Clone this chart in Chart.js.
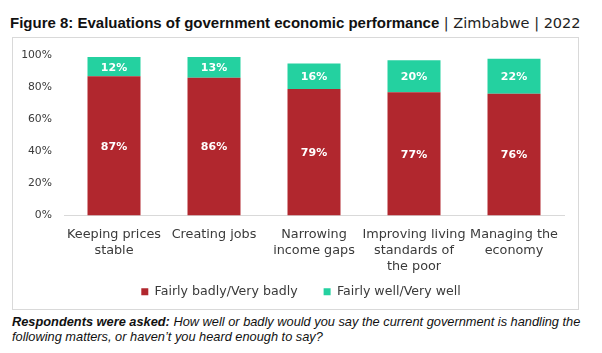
<!DOCTYPE html>
<html>
<head>
<meta charset="utf-8">
<script src="https://cdn.jsdelivr.net/npm/chart.js@4.4.1/dist/chart.umd.min.js"></script>
<style>
  html, body { margin: 0; padding: 0; background: #fff; }
  body { width: 602px; height: 353px; position: relative; overflow: hidden; }
  #title { position: absolute; left: 10px; top: 14px; white-space: nowrap; line-height: 16px; color: #111; }
  #title .b { font: bold 15px "Liberation Sans", Arial, sans-serif; }
  #title .n { font: 14.5px "DejaVu Sans", sans-serif; color: #222; }
  #box { position: absolute; left: 12px; top: 37px; width: 567px; height: 273px; box-sizing: border-box; border: 1px solid #d9d9d9; }
  #wrap { position: absolute; left: 12px; top: 37px; width: 567px; height: 273px; }
  #foot { position: absolute; left: 12px; top: 315px; font: italic 12.8px "Liberation Sans", Arial, sans-serif; line-height: 14.5px; color: #111; white-space: nowrap; }
  #foot b { font-weight: bold; }
</style>
</head>
<body>
<div id="title"><span class="b">Figure 8: Evaluations of government economic performance</span><span class="n"> | Zimbabwe | 2022</span></div>
<div id="box"></div>
<div id="wrap"><canvas id="c"></canvas></div>
<div id="foot"><b>Respondents were asked:</b> How well or badly would you say the current government is handling the<br>following matters, or haven’t you heard enough to say?</div>
<script>
const categories = [
  ["Keeping prices", "stable"],
  ["Creating jobs"],
  ["Narrowing", "income gaps"],
  ["Improving living", "standards of", "the poor"],
  ["Managing the", "economy"]
];
const seriesNames = ["Fairly badly/Very badly", "Fairly well/Very well"];
const badly = [87, 86, 79, 77, 76];
const well = [12, 13, 16, 20, 22];
const yTicks = [0, 20, 40, 60, 80, 100];

const FONT = '"DejaVu Sans", sans-serif';
const TXT = '#3a3a3a';

const valueLabels = {
  id: 'valueLabels',
  afterDatasetsDraw(chart) {
    const ctx = chart.ctx;
    ctx.save();
    ctx.font = 'bold 11px ' + FONT;
    ctx.fillStyle = '#ffffff';
    ctx.textAlign = 'center';
    ctx.textBaseline = 'middle';
    chart.data.datasets.forEach((ds, i) => {
      chart.getDatasetMeta(i).data.forEach((bar, j) => {
        const p = bar.getProps(['x', 'y', 'base'], true);
        ctx.fillText(ds.data[j] + '%', p.x, (p.y + p.base) / 2 + 1);
      });
    });
    ctx.restore();
  }
};

new Chart(document.getElementById('c'), {
  type: 'bar',
  data: {
    labels: categories,
    datasets: [
      { label: seriesNames[0], data: badly, backgroundColor: '#B1272E', borderWidth: 0 },
      { label: seriesNames[1], data: well, backgroundColor: '#24D1A0', borderWidth: 0 }
    ]
  },
  options: {
    responsive: true,
    maintainAspectRatio: false,
    animation: false,
    layout: { padding: { left: 26, right: 15, top: 12.2, bottom: 2 } },
    datasets: { bar: { barPercentage: 0.53, categoryPercentage: 1.0 } },
    plugins: {
      legend: {
        position: 'bottom',
        labels: {
          boxWidth: 7, boxHeight: 7, padding: 26,
          color: TXT,
          font: { family: FONT, size: 12.6 }
        }
      },
      tooltip: { enabled: false }
    },
    scales: {
      x: {
        stacked: true,
        grid: { display: false, drawTicks: false },
        border: { display: true, color: '#d9d9d9', width: 1 },
        ticks: {
          autoSkip: false, maxRotation: 0, padding: 11,
          color: TXT,
          font: { family: FONT, size: 12.8, lineHeight: '16px' }
        },
        afterFit(s) { s.height = 44; s._computeLabelArea = () => undefined; }
      },
      y: {
        stacked: true,
        min: 0, max: 100,
        afterBuildTicks(s) { s.ticks = yTicks.map(v => ({ value: v })); },
        grid: { display: false, drawTicks: false },
        border: { display: false },
        ticks: {
          padding: 12,
          color: TXT,
          font: { family: FONT, size: 10.8 },
          callback: v => v + '%'
        },
        afterFit(s) { s.width = 26; s._computeLabelArea = () => undefined; }
      }
    }
  },
  plugins: [valueLabels]
});
</script>
</body>
</html>
